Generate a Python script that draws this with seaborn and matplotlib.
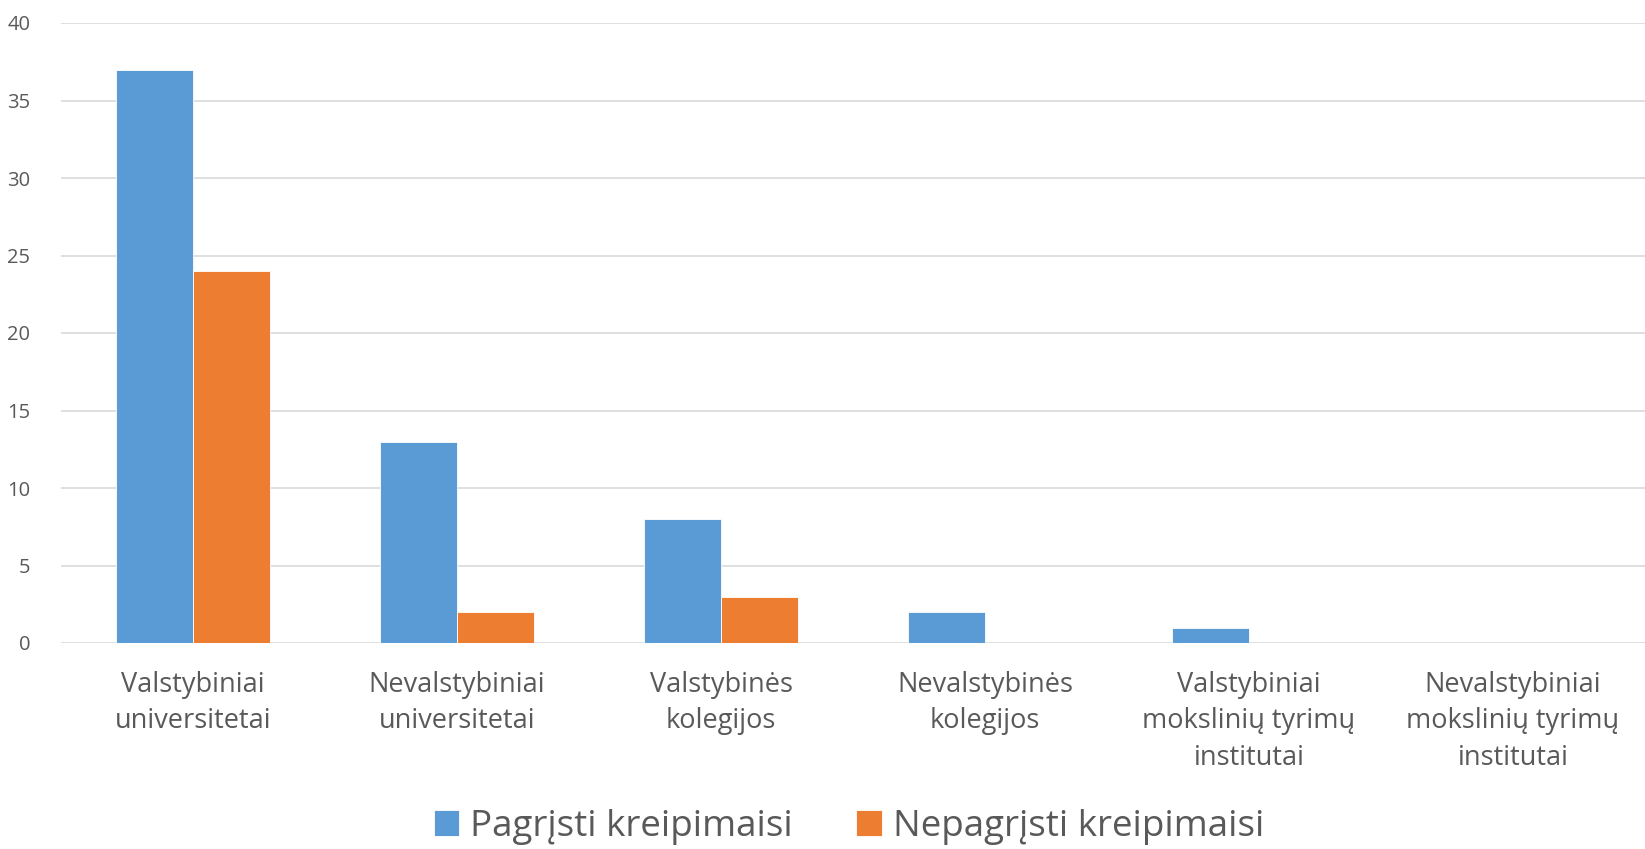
import matplotlib
matplotlib.use("Agg")
import matplotlib.pyplot as plt
import seaborn as sns
import pandas as pd

categories = ["Valstybiniai\nuniversitetai", "Nevalstybiniai\nuniversitetai",
              "Valstybinės\nkolegijos", "Nevalstybinės\nkolegijos",
              "Valstybiniai\nmokslinių tyrimų\ninstitutai",
              "Nevalstybiniai\nmokslinių tyrimų\ninstitutai"]
pagristi = [37, 13, 8, 2, 1, 0]
nepagristi = [24, 2, 3, 0, 0, 0]
series = ["Pagrįsti kreipimaisi", "Nepagrįsti kreipimaisi"]
yticks = [0, 5, 10, 15, 20, 25, 30, 35, 40]

df = pd.DataFrame({
    "cat": categories * 2,
    "val": pagristi + nepagristi,
    "series": [series[0]] * len(categories) + [series[1]] * len(categories),
})

sns.set_theme(style="white")
plt.rcParams['font.family'] = ['Open Sans', 'DejaVu Sans']

fig = plt.figure(figsize=(16.45, 8.49), dpi=100)
ax = fig.add_axes([61/1645, 1-643/849, 1-61/1645, (643-23)/849])

sns.barplot(data=df, x="cat", y="val", hue="series", ax=ax,
            palette=["#5b9bd5", "#ed7d31"], saturation=1, width=0.58, gap=0,
            edgecolor="white", linewidth=0.6, legend=True)

ax.set_ylim(0, 40)
ax.set_yticks(yticks)
ax.set_xlim(-0.5, len(categories) - 0.5)
ax.yaxis.grid(True, color="#d9d9d9", linewidth=1.2)
ax.set_axisbelow(True)
for s in ax.spines.values():
    s.set_visible(False)
ax.set_xlabel("")
ax.set_ylabel("")
ax.tick_params(axis="y", labelsize=14.5, colors="#595959", pad=22, length=0)
ax.tick_params(axis="x", labelsize=19.5, colors="#595959", pad=20, length=0)
for lbl in ax.get_xticklabels():
    lbl.set_linespacing(1.4)

handles, labels = ax.get_legend_handles_labels()
ax.get_legend().remove()
fig.legend(handles, labels, loc="lower center", bbox_to_anchor=(0.516, -0.034),
           ncol=2, frameon=False, fontsize=26.5, labelcolor="#595959",
           handlelength=0.7, handleheight=0.7, handletextpad=0.3,
           columnspacing=1.7)

fig.savefig("out.png", dpi=100)
